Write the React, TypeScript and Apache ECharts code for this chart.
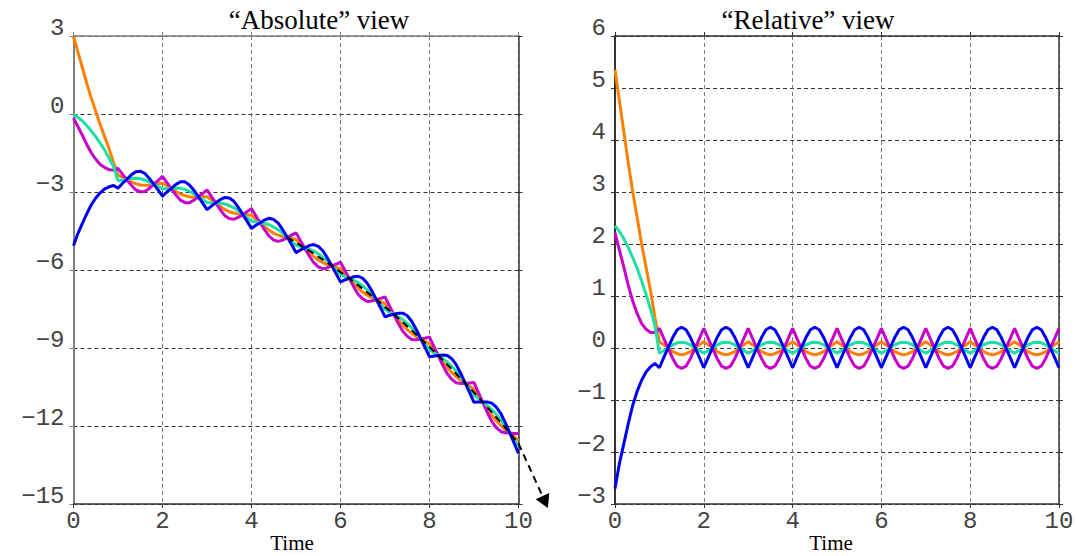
import React, { useEffect, useRef } from "react";
import * as echarts from "echarts";

// sample times 0.0 .. 10.0 (step 0.1)
const T: number[] = Array.from({ length: 101 }, (_, i) => i / 10);

// reference trajectory (black dashed line in the "Absolute" view)
const REF = [
  -2.37, -2.37, -2.37, -2.38, -2.39, -2.40, -2.41, -2.42, -2.44, -2.45,
  -2.47, -2.49, -2.52, -2.54, -2.57, -2.60, -2.63, -2.67, -2.70, -2.74,
  -2.78, -2.82, -2.87, -2.91, -2.96, -3.01, -3.07, -3.12, -3.18, -3.24,
  -3.30, -3.36, -3.42, -3.49, -3.56, -3.63, -3.70, -3.78, -3.86, -3.94,
  -4.02, -4.10, -4.19, -4.27, -4.36, -4.46, -4.55, -4.65, -4.74, -4.84,
  -4.95, -5.05, -5.16, -5.26, -5.37, -5.49, -5.60, -5.72, -5.83, -5.96,
  -6.08, -6.20, -6.33, -6.46, -6.59, -6.72, -6.86, -6.99, -7.13, -7.27,
  -7.42, -7.56, -7.71, -7.86, -8.01, -8.16, -8.32, -8.48, -8.64, -8.80,
  -8.96, -9.13, -9.30, -9.47, -9.64, -9.81, -9.99, -10.17, -10.35, -10.53,
  -10.71, -10.90, -11.09, -11.28, -11.47, -11.67, -11.86, -12.06, -12.26, -12.47,
  -12.67,
];
const REF_START_INDEX = 48;
// where the arrow (continuation of the reference) points to, outside the axes
const ARROW_TIP = [10.66, -15.15];

// "Relative" view values (deviation from the reference)
const ORANGE_REL = [
  5.35, 4.75, 4.15, 3.55, 3.0, 2.5, 2.0, 1.55, 1.1, 0.58,
  0.12, 0.06, 0.0, -0.07, -0.11, -0.13, -0.11, -0.07, 0.0, 0.06,
  0.12, 0.06, 0.0, -0.07, -0.11, -0.13, -0.11, -0.07, 0.0, 0.06,
  0.12, 0.06, 0.0, -0.07, -0.11, -0.13, -0.11, -0.07, 0.0, 0.06,
  0.12, 0.06, 0.0, -0.07, -0.11, -0.13, -0.11, -0.07, 0.0, 0.06,
  0.12, 0.06, 0.0, -0.07, -0.11, -0.13, -0.11, -0.07, 0.0, 0.06,
  0.12, 0.06, 0.0, -0.07, -0.11, -0.13, -0.11, -0.07, 0.0, 0.06,
  0.12, 0.06, 0.0, -0.07, -0.11, -0.13, -0.11, -0.07, 0.0, 0.06,
  0.12, 0.06, 0.0, -0.07, -0.11, -0.13, -0.11, -0.07, 0.0, 0.06,
  0.12, 0.06, 0.0, -0.07, -0.11, -0.13, -0.11, -0.07, 0.0, 0.06,
  0.12,
];
const TEAL_REL = [
  2.35, 2.24, 2.1, 1.93, 1.74, 1.53, 1.29, 1.03, 0.74, 0.43,
  -0.1, -0.05, 0.0, 0.06, 0.1, 0.11, 0.1, 0.06, 0.0, -0.05,
  -0.1, -0.05, 0.0, 0.06, 0.1, 0.11, 0.1, 0.06, 0.0, -0.05,
  -0.1, -0.05, 0.0, 0.06, 0.1, 0.11, 0.1, 0.06, 0.0, -0.05,
  -0.1, -0.05, 0.0, 0.06, 0.1, 0.11, 0.1, 0.06, 0.0, -0.05,
  -0.1, -0.05, 0.0, 0.06, 0.1, 0.11, 0.1, 0.06, 0.0, -0.05,
  -0.1, -0.05, 0.0, 0.06, 0.1, 0.11, 0.1, 0.06, 0.0, -0.05,
  -0.1, -0.05, 0.0, 0.06, 0.1, 0.11, 0.1, 0.06, 0.0, -0.05,
  -0.1, -0.05, 0.0, 0.06, 0.1, 0.11, 0.1, 0.06, 0.0, -0.05,
  -0.1, -0.05, 0.0, 0.06, 0.1, 0.11, 0.1, 0.06, 0.0, -0.05,
  -0.1,
];
const MAGENTA_REL = [
  2.22, 1.88, 1.55, 1.2, 0.9, 0.66, 0.47, 0.36, 0.3, 0.3,
  0.38, 0.18, -0.01, -0.2, -0.35, -0.39, -0.35, -0.2, -0.01, 0.18,
  0.38, 0.18, -0.01, -0.2, -0.35, -0.39, -0.35, -0.2, -0.01, 0.18,
  0.38, 0.18, -0.01, -0.2, -0.35, -0.39, -0.35, -0.2, -0.01, 0.18,
  0.38, 0.18, -0.01, -0.2, -0.35, -0.39, -0.35, -0.2, -0.01, 0.18,
  0.38, 0.18, -0.01, -0.2, -0.35, -0.39, -0.35, -0.2, -0.01, 0.18,
  0.38, 0.18, -0.01, -0.2, -0.35, -0.39, -0.35, -0.2, -0.01, 0.18,
  0.38, 0.18, -0.01, -0.2, -0.35, -0.39, -0.35, -0.2, -0.01, 0.18,
  0.38, 0.18, -0.01, -0.2, -0.35, -0.39, -0.35, -0.2, -0.01, 0.18,
  0.38, 0.18, -0.01, -0.2, -0.35, -0.39, -0.35, -0.2, -0.01, 0.18,
  0.38,
];
const BLUE_REL = [
  -2.7, -2.22, -1.84, -1.45, -1.1, -0.83, -0.62, -0.46, -0.36, -0.3,
  -0.38, -0.18, 0.01, 0.2, 0.35, 0.4, 0.35, 0.2, 0.01, -0.18,
  -0.38, -0.18, 0.01, 0.2, 0.35, 0.4, 0.35, 0.2, 0.01, -0.18,
  -0.38, -0.18, 0.01, 0.2, 0.35, 0.4, 0.35, 0.2, 0.01, -0.18,
  -0.38, -0.18, 0.01, 0.2, 0.35, 0.4, 0.35, 0.2, 0.01, -0.18,
  -0.38, -0.18, 0.01, 0.2, 0.35, 0.4, 0.35, 0.2, 0.01, -0.18,
  -0.38, -0.18, 0.01, 0.2, 0.35, 0.4, 0.35, 0.2, 0.01, -0.18,
  -0.38, -0.18, 0.01, 0.2, 0.35, 0.4, 0.35, 0.2, 0.01, -0.18,
  -0.38, -0.18, 0.01, 0.2, 0.35, 0.4, 0.35, 0.2, 0.01, -0.18,
  -0.38, -0.18, 0.01, 0.2, 0.35, 0.4, 0.35, 0.2, 0.01, -0.18,
  -0.38,
];

const SERIES = [
  { name: "orange", color: "#ff8000", rel: ORANGE_REL },
  { name: "magenta", color: "#c800c8", rel: MAGENTA_REL },
  { name: "teal", color: "#1ee0a4", rel: TEAL_REL },
  { name: "blue", color: "#0000f5", rel: BLUE_REL },
];

const LEFT_Y = { min: -15, max: 3, interval: 3 };
const RIGHT_Y = { min: -3, max: 6, interval: 1 };
const X_RANGE = { min: 0, max: 10, interval: 2 };

const MONO = '"Liberation Mono", "DejaVu Sans Mono", monospace';
const SERIF = '"Liberation Serif", "Times New Roman", serif';

const fmt = (v: number) => (v < 0 ? "\u2212" + -v : String(v));

function xAxes(grid: number, lineColor: string, topColor: string) {
  return [
    {
      gridIndex: grid,
      type: "value",
      ...X_RANGE,
      position: "bottom",
      axisLine: { show: true, onZero: false, lineStyle: { color: lineColor, width: 1.5 } },
      axisTick: { show: true, length: 4, lineStyle: { color: lineColor, width: 1 } },
      axisLabel: { fontFamily: MONO, fontSize: 24, color: "#444", margin: 5, lineHeight: 24, formatter: fmt },
      splitLine: { show: true, lineStyle: { type: [4, 3], color: "#777", width: 1 } },
    },
    {
      gridIndex: grid,
      type: "value",
      ...X_RANGE,
      position: "top",
      axisLine: { show: true, onZero: false, lineStyle: { color: topColor, width: 1.5 } },
      axisTick: { show: true, length: 4, lineStyle: { color: topColor, width: 1 } },
      axisLabel: { show: false },
      splitLine: { show: false },
    },
  ];
}

function yAxes(grid: number, range: any, leftColor: string, rightColor: string) {
  return [
    {
      gridIndex: grid,
      type: "value",
      ...range,
      position: "left",
      axisLine: { show: true, onZero: false, lineStyle: { color: leftColor, width: 2 } },
      axisTick: { show: true, length: 4, lineStyle: { color: leftColor, width: 1 } },
      axisLabel: {
        fontFamily: MONO,
        fontSize: 24,
        color: "#444",
        margin: 9,
        verticalAlign: "bottom",
        lineHeight: 16,
        formatter: fmt,
      },
      splitLine: { show: true, lineStyle: { type: [4, 3], color: "#333", width: 1 } },
    },
    {
      gridIndex: grid,
      type: "value",
      ...range,
      position: "right",
      axisLine: { show: true, onZero: false, lineStyle: { color: rightColor, width: 1.5 } },
      axisTick: { show: true, length: 4, lineStyle: { color: rightColor, width: 1 } },
      axisLabel: { show: false },
      splitLine: { show: false },
    },
  ];
}

function textEl(text: string, x: number, y: number, size: number) {
  return {
    type: "text",
    x,
    y,
    style: {
      text,
      fill: "#000",
      fontSize: size,
      fontFamily: SERIF,
      align: "center",
      verticalAlign: "middle",
      textAlign: "center",
      textVerticalAlign: "middle",
    },
  };
}

export default function App() {
  const ref = useRef<HTMLDivElement>(null);

  useEffect(() => {
    if (!ref.current) return;
    const chart = echarts.init(ref.current, null, { renderer: "svg" });

    const absSeries = SERIES.map((s) => ({
      type: "line",
      name: s.name + "-abs",
      xAxisIndex: 0,
      yAxisIndex: 0,
      data: s.rel.map((v, i) => [T[i], +(REF[i] + v).toFixed(3)]),
      showSymbol: false,
      symbol: "none",
      lineStyle: { color: s.color, width: 3 },
      z: 3,
    }));
    const relSeries = SERIES.map((s) => ({
      type: "line",
      name: s.name + "-rel",
      xAxisIndex: 2,
      yAxisIndex: 2,
      data: s.rel.map((v, i) => [T[i], v]),
      showSymbol: false,
      symbol: "none",
      lineStyle: { color: s.color, width: 3 },
      z: 3,
    }));

    const refData: any[] = T.slice(REF_START_INDEX).map((t, i) => [t, REF[REF_START_INDEX + i]]);

    chart.setOption({
      animation: false,
      backgroundColor: "#fff",
      grid: [
        { left: 73.5, top: 36, width: 445, height: 468, containLabel: false },
        { left: 615, top: 36, width: 444, height: 468, containLabel: false },
      ],
      xAxis: [...xAxes(0, "#333", "#808080"), ...xAxes(1, "#333", "#333")],
      yAxis: [...yAxes(0, LEFT_Y, "#808080", "#333"), ...yAxes(1, RIGHT_Y, "#333", "#333")],
      series: [
        ...absSeries,
        {
          type: "line",
          name: "reference",
          xAxisIndex: 0,
          yAxisIndex: 0,
          data: refData,
          showSymbol: false,
          symbol: "none",
          lineStyle: { color: "#000", width: 2, type: [7, 5] },
          z: 4,
        },
        ...relSeries,
      ],
    });

    // continuation of the reference beyond the axis, with an arrowhead,
    // positioned through the chart's own scales
    const finder = { xAxisIndex: 0, yAxisIndex: 0 };
    const p0 = chart.convertToPixel(finder, [T[T.length - 1], REF[REF.length - 1]]) as number[];
    const tip = chart.convertToPixel(finder, ARROW_TIP) as number[];
    const dx = tip[0] - p0[0];
    const dy = tip[1] - p0[1];
    const len = Math.sqrt(dx * dx + dy * dy) || 1;
    const ux = dx / len;
    const uy = dy / len;
    const headLen = 13;
    const halfW = 7.5;
    const bx = tip[0] - ux * headLen;
    const by = tip[1] - uy * headLen;

    chart.setOption({
      graphic: [
        textEl("\u201cAbsolute\u201d view", 319, 20, 27),
        textEl("\u201cRelative\u201d view", 808, 20, 27),
        textEl("Time", 292, 543, 21),
        textEl("Time", 831, 543, 21),
        {
          type: "line",
          shape: { x1: p0[0], y1: p0[1], x2: bx, y2: by },
          style: { stroke: "#000", lineWidth: 2, lineDash: [7, 5] },
          z: 10,
        },
        {
          type: "polygon",
          shape: {
            points: [
              [tip[0], tip[1]],
              [bx - uy * halfW, by + ux * halfW],
              [bx + uy * halfW, by - ux * halfW],
            ],
          },
          style: { fill: "#000" },
          z: 10,
        },
      ],
    });

    return () => chart.dispose();
  }, []);

  return (
    <div
      ref={ref}
      style={{ position: "absolute", left: 0, top: 0, width: 1077, height: 556 }}
    />
  );
}
